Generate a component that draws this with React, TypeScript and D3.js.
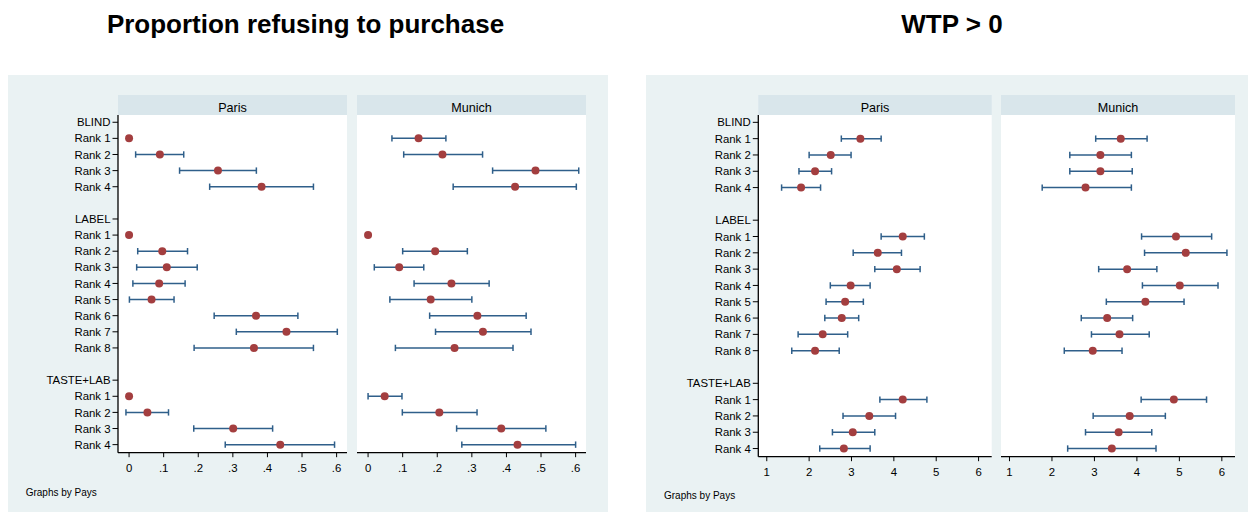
import React from "react";
import * as d3 from "d3";

// Row structure: each group header is followed by its ranks, then a blank gap row
const groups = ["BLIND", "LABEL", "TASTE+LAB"];
const ranksPerGroup = [4, 8, 4];

// [estimate, lower 95% CI, upper 95% CI] per rank, in group order
const refuseParis: number[][] = [
  [0, 0, 0], [0.089, 0.019, 0.158], [0.257, 0.146, 0.368], [0.383, 0.233, 0.533],
  [0, 0, 0], [0.096, 0.025, 0.169], [0.109, 0.022, 0.197], [0.087, 0.011, 0.162],
  [0.065, 0.001, 0.13], [0.367, 0.246, 0.488], [0.455, 0.31, 0.602], [0.361, 0.188, 0.533],
  [0, 0, 0], [0.053, -0.009, 0.114], [0.301, 0.187, 0.415], [0.437, 0.278, 0.594],
];
const refuseMunich: number[][] = [
  [0.146, 0.069, 0.225], [0.215, 0.103, 0.331], [0.484, 0.36, 0.609], [0.425, 0.246, 0.602],
  [0, 0, 0], [0.194, 0.1, 0.287], [0.09, 0.018, 0.161], [0.241, 0.133, 0.35],
  [0.181, 0.063, 0.3], [0.316, 0.178, 0.457], [0.332, 0.195, 0.471], [0.25, 0.079, 0.419],
  [0.048, 0.0, 0.098], [0.206, 0.099, 0.315], [0.385, 0.256, 0.514], [0.432, 0.271, 0.6],
];
const wtpParis: number[][] = [
  [3.21, 2.76, 3.7], [2.51, 2.0, 2.99], [2.14, 1.76, 2.53], [1.81, 1.35, 2.27],
  [4.21, 3.7, 4.72], [3.62, 3.04, 4.18], [4.07, 3.55, 4.62], [2.98, 2.5, 3.44],
  [2.85, 2.4, 3.28], [2.77, 2.37, 3.17], [2.32, 1.74, 2.91], [2.14, 1.59, 2.71],
  [4.21, 3.67, 4.78], [3.42, 2.8, 4.04], [3.03, 2.55, 3.55], [2.82, 2.25, 3.44],
];
const wtpMunich: number[][] = [
  [3.62, 3.03, 4.24], [3.14, 2.42, 3.87], [3.14, 2.42, 3.89], [2.79, 1.77, 3.87],
  [4.92, 4.11, 5.76], [5.15, 4.18, 6.12], [3.77, 3.1, 4.47], [5.01, 4.13, 5.91],
  [4.2, 3.28, 5.11], [3.3, 2.69, 3.9], [3.59, 2.93, 4.29], [2.96, 2.29, 3.65],
  [4.87, 4.1, 5.64], [3.83, 2.97, 4.67], [3.57, 2.79, 4.35], [3.41, 2.37, 4.45],
];

const refuseTicks = [0, 0.1, 0.2, 0.3, 0.4, 0.5, 0.6];
const refuseTickLabels = ["0", ".1", ".2", ".3", ".4", ".5", ".6"];
const wtpTicks = [1, 2, 3, 4, 5, 6];
const wtpTickLabels = ["1", "2", "3", "4", "5", "6"];

const panelNames = ["Paris", "Munich"];

type Row = { label: string; pos: number; dataIndex: number };

function buildRows(): { rows: Row[]; maxPos: number } {
  const rows: Row[] = [];
  let pos = 0;
  let di = 0;
  groups.forEach((g, gi) => {
    rows.push({ label: g, pos, dataIndex: -1 });
    pos += 1;
    for (let r = 1; r <= ranksPerGroup[gi]; r++) {
      rows.push({ label: `Rank ${r}`, pos, dataIndex: di });
      di += 1;
      pos += 1;
    }
    pos += 1;
  });
  return { rows, maxPos: pos - 2 };
}

const { rows, maxPos } = buildRows();

const FONT = "'Liberation Sans', Arial, Helvetica, sans-serif";
const BG = "#eaf2f3";
const STRIP = "#d9e6eb";
const DOT = "#a33e3f";
const BAR = "#2f5f8a";
const INK = "#000";

type PanelSpec = { x0: number; x1: number; data: number[][] };
type ChartSpec = {
  title: string;
  titleX: number;
  bg: [number, number, number, number];
  panels: PanelSpec[];
  axisY: number;
  domain: [number, number];
  ticks: number[];
  tickLabels: string[];
  footX: number;
  footY: number;
};

const charts: ChartSpec[] = [
  {
    title: "Proportion refusing to purchase",
    titleX: 305.5,
    bg: [8, 75, 600, 437],
    panels: [
      { x0: 118, x1: 347, data: refuseParis },
      { x0: 357, x1: 586, data: refuseMunich },
    ],
    axisY: 452.7,
    domain: [-0.032, 0.63],
    ticks: refuseTicks,
    tickLabels: refuseTickLabels,
    footX: 25.7,
    footY: 495.5,
  },
  {
    title: "WTP > 0",
    titleX: 952,
    bg: [646, 75, 602, 437],
    panels: [
      { x0: 758.3, x1: 991.7, data: wtpParis },
      { x0: 1001, x1: 1235, data: wtpMunich },
    ],
    axisY: 456.7,
    domain: [0.8, 6.31],
    ticks: wtpTicks,
    tickLabels: wtpTickLabels,
    footX: 664,
    footY: 499.3,
  },
];

const STRIP_TOP = 95;
const PLOT_TOP = 115;

function Chart({ spec }: { spec: ChartSpec }) {
  const y = d3
    .scaleLinear()
    .domain([-0.45, maxPos + 0.5])
    .range([PLOT_TOP, spec.axisY]);
  const [bx, by, bw, bh] = spec.bg;
  const yAxisX = spec.panels[0].x0;

  return (
    <g>
      <rect x={bx} y={by} width={bw} height={bh} fill={BG} />
      <text
        x={spec.titleX}
        y={33}
        textAnchor="middle"
        fontFamily={FONT}
        fontWeight="bold"
        fontSize={26}
        fill={INK}
      >
        {spec.title}
      </text>

      {spec.panels.map((p, pi) => {
        const x = d3.scaleLinear().domain(spec.domain).range([p.x0, p.x1]);
        return (
          <g key={pi}>
            <rect
              x={p.x0}
              y={STRIP_TOP}
              width={p.x1 - p.x0}
              height={PLOT_TOP - STRIP_TOP}
              fill={STRIP}
            />
            <text
              x={(p.x0 + p.x1) / 2}
              y={111.5}
              textAnchor="middle"
              fontFamily={FONT}
              fontSize={12.6}
              fill={INK}
            >
              {panelNames[pi]}
            </text>
            <rect
              x={p.x0}
              y={PLOT_TOP}
              width={p.x1 - p.x0}
              height={spec.axisY - PLOT_TOP}
              fill="#fff"
            />
            {/* confidence intervals with caps */}
            {rows
              .filter((r) => r.dataIndex >= 0)
              .map((r) => {
                const [, lo, hi] = p.data[r.dataIndex];
                if (lo === hi) return null;
                const cy = y(r.pos);
                return (
                  <g key={`ci${r.dataIndex}`} stroke={BAR} strokeWidth={1.5}>
                    <line x1={x(lo)} x2={x(hi)} y1={cy} y2={cy} />
                    <line x1={x(lo)} x2={x(lo)} y1={cy - 3.2} y2={cy + 3.2} />
                    <line x1={x(hi)} x2={x(hi)} y1={cy - 3.2} y2={cy + 3.2} />
                  </g>
                );
              })}
            {rows
              .filter((r) => r.dataIndex >= 0)
              .map((r) => (
                <circle
                  key={`pt${r.dataIndex}`}
                  cx={x(p.data[r.dataIndex][0])}
                  cy={y(r.pos)}
                  r={4}
                  fill={DOT}
                />
              ))}
            {/* x axis */}
            <line
              x1={p.x0}
              x2={p.x1}
              y1={spec.axisY}
              y2={spec.axisY}
              stroke={INK}
              strokeWidth={1.3}
            />
            {spec.ticks.map((t, ti) => (
              <g key={ti}>
                <line
                  x1={x(t)}
                  x2={x(t)}
                  y1={spec.axisY}
                  y2={spec.axisY + 4.5}
                  stroke={INK}
                  strokeWidth={1}
                />
                <text
                  x={x(t)}
                  y={spec.axisY + 19}
                  textAnchor="middle"
                  fontFamily={FONT}
                  fontSize={11.4}
                  fill={INK}
                >
                  {spec.tickLabels[ti]}
                </text>
              </g>
            ))}
          </g>
        );
      })}

      {/* y axis on the first panel */}
      <line
        x1={yAxisX}
        x2={yAxisX}
        y1={PLOT_TOP}
        y2={spec.axisY}
        stroke={INK}
        strokeWidth={1.3}
      />
      {rows.map((r, i) => (
        <g key={i}>
          <line
            x1={yAxisX - 5.5}
            x2={yAxisX}
            y1={y(r.pos)}
            y2={y(r.pos)}
            stroke={INK}
            strokeWidth={1}
          />
          <text
            x={yAxisX - 7.5}
            y={y(r.pos)}
            dy="0.36em"
            textAnchor="end"
            fontFamily={FONT}
            fontSize={11.4}
            fill={INK}
          >
            {r.label}
          </text>
        </g>
      ))}

      <text
        x={spec.footX}
        y={spec.footY}
        fontFamily={FONT}
        fontSize={10}
        fill={INK}
      >
        Graphs by Pays
      </text>
    </g>
  );
}

export default function App() {
  return (
    <svg
      width={1250}
      height={512}
      style={{ position: "absolute", left: 0, top: 0, display: "block" }}
    >
      <rect x={0} y={0} width={1250} height={512} fill="#fff" />
      {charts.map((c, i) => (
        <Chart key={i} spec={c} />
      ))}
    </svg>
  );
}
